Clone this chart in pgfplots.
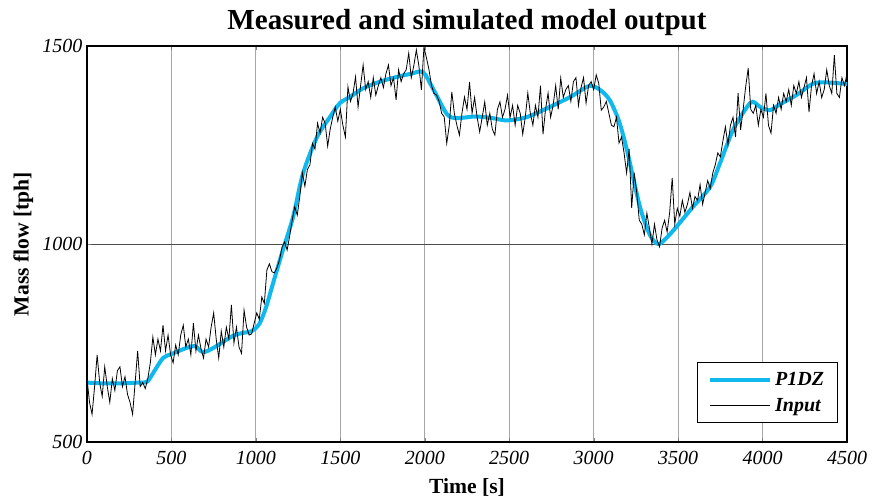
\documentclass[border=0pt]{standalone}
\usepackage{fontspec}
\setmainfont{Liberation Serif}
\usepackage{pgfplots}
\pgfplotsset{compat=1.18}
\definecolor{pcyan}{RGB}{15,185,238}
\begin{document}
\begin{tikzpicture}
\begin{axis}[
  scale only axis, width=570pt, height=297pt,
  xmin=0, xmax=4500, ymin=500, ymax=1500,
  xtick={0,500,...,4500}, ytick={500,1000,1500},
  /pgf/number format/1000 sep={},
  /pgf/number format/assume math mode=true,
  ticklabel style={font=\itshape\fontsize{15}{15}\selectfont},
  xticklabel style={yshift=-3pt},
  tick align=inside, tick pos=both, major tick length=3pt,
  axis line style={line width=1pt},
  xmajorgrids, ymajorgrids,
  major x grid style={color=black!35, line width=0.6pt},
  major y grid style={color=black!70, line width=0.5pt},
  title={Measured and simulated model output},
  title style={font=\bfseries\fontsize{21.8}{21.8}\selectfont, yshift=-2pt},
  xlabel={Time [s]}, ylabel={Mass flow [tph]},
  label style={font=\bfseries\fontsize{16.2}{16.2}\selectfont},
  xlabel style={yshift=-3.5pt}, ylabel style={yshift=0pt},
  legend style={at={(0.988,0.048)}, anchor=south east, draw=black, line width=0.8pt,
    font=\bfseries\itshape\fontsize{15}{15}\selectfont, inner xsep=8pt, inner ysep=5pt, row sep=4pt},
  legend cell align=left,
  legend image code/.code={\draw[#1] (0pt,0pt) -- (45pt,0pt);},
]
\coordinate (bl) at (rel axis cs:0,0);
\coordinate (tr) at (rel axis cs:1,1);
\addplot[color=pcyan, line width=3pt, smooth] coordinates {
(0,650) (100,648) (200,648) (300,650) (355,652) (400,680) (450,712) (500,722) (592,738) (640,742) (687,727) (750,738) (864,768) (930,776) (975,780) (1020,798) (1060,840) (1101,900) (1160,985) (1220,1068) (1279,1178) (1362,1270) (1439,1321) (1498,1356) (1560,1372) (1634,1393) (1735,1410) (1835,1422) (1920,1430) (1989,1434) (2049,1392) (2131,1328) (2191,1318) (2300,1322) (2400,1318) (2487,1312) (2600,1320) (2700,1338) (2860,1371) (2960,1397) (3000,1398) (3050,1385) (3097,1362) (3150,1310) (3197,1237) (3274,1094) (3333,1023) (3381,1000) (3430,1015) (3493,1045) (3588,1094) (3689,1144) (3748,1204) (3825,1288) (3908,1346) (3943,1359) (3990,1345) (4044,1338) (4100,1352) (4200,1376) (4300,1405) (4380,1408) (4500,1404)
};
\addlegendentry{P1DZ}
\addplot[color=black, line width=0.6pt] coordinates {
(0,660) (15,600) (30,570) (45,640) (60,720) (75,650) (90,615) (105,690) (120,640) (135,600) (150,660) (165,630) (180,680) (195,690) (210,640) (225,665) (240,620) (255,600) (270,570) (285,650) (300,730) (315,640) (330,650) (345,635) (360,660) (375,700) (390,765) (405,720) (420,760) (435,730) (450,795) (465,730) (480,770) (495,720) (510,700) (525,745) (540,720) (555,770) (570,795) (585,740) (600,760) (615,720) (630,800) (645,730) (660,770) (675,735) (690,712) (705,760) (720,740) (735,790) (750,826) (765,760) (780,712) (795,780) (810,740) (825,790) (840,760) (855,846) (870,750) (885,790) (900,740) (915,724) (930,833) (945,790) (960,770) (975,773) (990,800) (1005,826) (1020,810) (1035,866) (1050,850) (1065,934) (1080,950) (1095,930) (1110,927) (1125,940) (1140,960) (1155,992) (1170,1005) (1185,985) (1200,1020) (1215,1060) (1230,1094) (1245,1073) (1260,1120) (1275,1180) (1290,1146) (1305,1188) (1320,1200) (1335,1254) (1350,1240) (1365,1305) (1380,1280) (1395,1320) (1410,1305) (1425,1247) (1440,1290) (1455,1320) (1470,1346) (1485,1310) (1500,1340) (1515,1300) (1530,1270) (1545,1397) (1560,1360) (1575,1380) (1590,1422) (1605,1346) (1620,1400) (1635,1452) (1650,1390) (1665,1410) (1680,1370) (1695,1420) (1710,1376) (1725,1400) (1740,1420) (1755,1395) (1770,1430) (1785,1452) (1800,1400) (1815,1420) (1830,1364) (1845,1440) (1860,1410) (1875,1430) (1890,1440) (1905,1482) (1920,1420) (1935,1450) (1950,1490) (1965,1450) (1980,1389) (1995,1497) (2010,1470) (2025,1440) (2040,1400) (2055,1380) (2070,1376) (2085,1360) (2100,1330) (2115,1321) (2130,1254) (2145,1300) (2160,1384) (2175,1330) (2190,1300) (2205,1275) (2220,1330) (2235,1371) (2250,1340) (2265,1409) (2280,1330) (2295,1370) (2310,1320) (2325,1283) (2340,1320) (2355,1359) (2370,1300) (2385,1330) (2400,1290) (2415,1275) (2430,1340) (2445,1359) (2460,1320) (2475,1340) (2490,1376) (2505,1320) (2520,1350) (2535,1300) (2550,1350) (2565,1330) (2580,1277) (2595,1320) (2610,1381) (2625,1330) (2640,1300) (2655,1350) (2670,1320) (2685,1400) (2700,1277) (2715,1340) (2730,1381) (2745,1320) (2760,1350) (2775,1400) (2790,1340) (2805,1419) (2820,1370) (2835,1390) (2850,1400) (2865,1360) (2880,1410) (2895,1420) (2910,1350) (2925,1395) (2940,1420) (2955,1356) (2970,1400) (2985,1410) (3000,1390) (3015,1427) (3030,1406) (3045,1338) (3060,1346) (3075,1360) (3090,1330) (3105,1300) (3120,1296) (3135,1320) (3150,1255) (3165,1270) (3180,1230) (3195,1179) (3210,1240) (3225,1091) (3240,1180) (3255,1130) (3270,1060) (3285,1050) (3300,1023) (3315,1078) (3330,1040) (3345,1000) (3360,1050) (3375,1010) (3390,993) (3405,1040) (3420,1060) (3435,1030) (3450,1080) (3465,1167) (3480,1050) (3495,1090) (3510,1070) (3525,1110) (3540,1080) (3555,1100) (3570,1130) (3585,1090) (3600,1120) (3615,1110) (3630,1150) (3645,1100) (3660,1130) (3675,1160) (3690,1140) (3705,1179) (3720,1200) (3735,1230) (3750,1220) (3765,1260) (3780,1296) (3795,1250) (3810,1300) (3825,1320) (3840,1270) (3855,1381) (3870,1288) (3885,1340) (3900,1397) (3915,1444) (3930,1340) (3945,1330) (3960,1350) (3975,1300) (3990,1340) (4005,1320) (4020,1380) (4035,1300) (4050,1280) (4065,1350) (4080,1330) (4095,1370) (4110,1340) (4125,1380) (4140,1360) (4155,1390) (4170,1350) (4185,1400) (4200,1380) (4215,1410) (4230,1370) (4245,1395) (4260,1420) (4275,1333) (4290,1400) (4305,1430) (4320,1380) (4335,1410) (4350,1370) (4365,1390) (4380,1440) (4395,1400) (4410,1380) (4425,1477) (4440,1380) (4455,1370) (4470,1420) (4485,1400) (4500,1430)
};
\addlegendentry{Input}
\end{axis}
\pgfresetboundingbox
\path (bl) ++(-65.25pt,-42.75pt) coordinate (BB1);
\path (tr) ++(18.75pt,34.5pt) coordinate (BB2);
\useasboundingbox (BB1) rectangle (BB2);
\end{tikzpicture}
\end{document}
